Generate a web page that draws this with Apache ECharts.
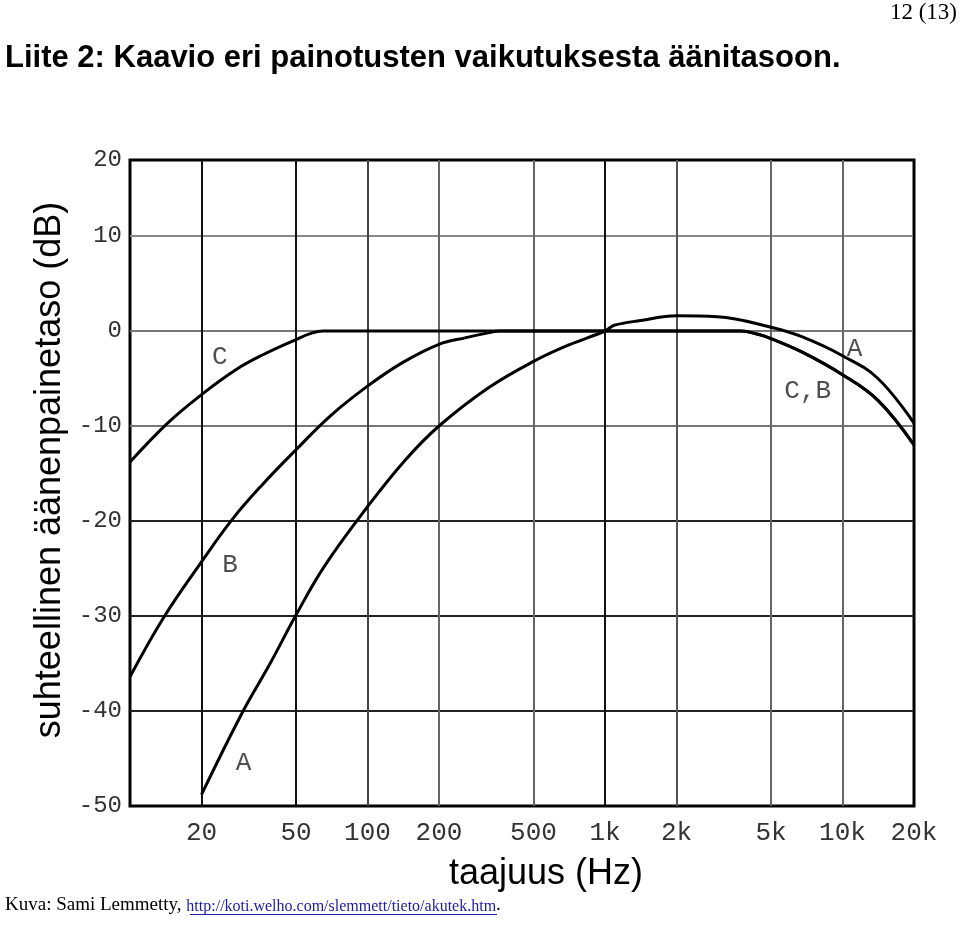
<!DOCTYPE html>
<html>
<head>
<meta charset="utf-8">
<script src="https://cdn.jsdelivr.net/npm/echarts@6/dist/echarts.min.js"></script>
<style>
html,body{margin:0;padding:0;background:#fff;}
#chart{width:960px;height:926px;}
</style>
</head>
<body>
<div id="chart"></div>
<script>
// ---- data (frequency in Hz, level in dB) ----
const xTickFreqs = [20, 50, 100, 200, 500, 1000, 2000, 5000, 10000, 20000];
const xTickLabels = ['20', '50', '100', '200', '500', '1k', '2k', '5k', '10k', '20k'];
const yTicks = [-50, -40, -30, -20, -10, 0, 10];
const yTopLabel = '20';

const freqC = [10, 14.4, 20, 27.8, 36.3, 50, 57, 65, 3740, 4410, 5000, 6740, 10000, 14100, 20000];
const dbC   = [-13.8, -9.7, -6.7, -4.1, -2.5, -0.9, -0.3, 0, 0, -0.35, -0.8, -2.2, -4.6, -7.3, -12.0];

const freqB = [10, 13.9, 20, 27, 36, 50, 70, 100, 141, 200, 260, 322, 360, 3740, 4410, 5000, 6740, 10000, 14100, 20000];
const dbB   = [-36.4, -30.1, -24.3, -19.8, -16.2, -12.5, -8.9, -5.8, -3.3, -1.4, -0.7, -0.2, 0, 0, -0.35, -0.8, -2.2, -4.6, -7.3, -12.0];

const freqA = [20, 29.8, 38.9, 50, 65.7, 100, 144, 200, 322, 500, 699, 1000, 1093, 1414, 2000, 2970, 5000, 6740, 10000, 14100, 20000];
const dbA   = [-48.8, -40.1, -35.0, -29.9, -24.8, -18.5, -13.6, -10.0, -6.0, -3.2, -1.5, 0, 0.6, 1.1, 1.6, 1.5, 0.4, -0.6, -2.6, -5.0, -9.7];

const curveLabelText = ['C', 'B', 'A', 'A', 'C,B'];
const curveLabelFreq = [23.9, 26.4, 30.1, 11250, 7140];
const curveLabelDb   = [-2.8, -24.6, -45.5, -1.9, -6.3];

// ---- build ----
const lg = f => Math.log10(f);
const pairs = (fs, ds) => fs.map((f, i) => [lg(f), ds[i]]);
const xMin = lg(10), xMax = lg(20000);
const yMin = -50, yMax = 18;
const xCustom = xTickFreqs.map(lg);
const yCustom = yTicks.concat([yMax]);

function xFmt(v) {
  const f = Math.round(Math.pow(10, v));
  const i = xTickFreqs.indexOf(f);
  return i >= 0 ? xTickLabels[i] : '';
}
function yFmt(v) {
  return v >= yMax - 0.001 ? yTopLabel : String(v);
}

const lineStyle = { color: '#000', width: 3 };
const chart = echarts.init(document.getElementById('chart'), null, { renderer: 'canvas' });
chart.setOption({
  animation: false,
  backgroundColor: '#fff',
  title: {
    text: 'Liite 2: Kaavio eri painotusten vaikutuksesta äänitasoon.',
    left: 5, top: 43, padding: 0,
    textStyle: { fontFamily: 'Liberation Sans', fontWeight: 'bold', fontSize: 31, color: '#000' }
  },
  grid: {
    left: 130, right: 46, top: 160, bottom: 120,
    show: true, borderColor: '#000', borderWidth: 3, backgroundColor: 'transparent'
  },
  xAxis: {
    type: 'value', min: xMin, max: xMax,
    name: 'taajuus (Hz)', nameLocation: 'middle', nameGap: 50,
    nameTextStyle: { fontFamily: 'Liberation Sans', fontSize: 36, color: '#000', padding: [0, 0, 0, 48] },
    axisLine: { show: false },
    axisTick: { show: false, customValues: xCustom },
    axisLabel: {
      customValues: xCustom, formatter: xFmt, margin: 14,
      fontFamily: 'Liberation Mono', fontSize: 26, color: '#333'
    },
    splitLine: {
      show: true,
      lineStyle: { width: 2, color: ['#111', '#111', '#444', '#666', '#666', '#111', '#555', '#666', '#666', '#000'] }
    }
  },
  yAxis: {
    type: 'value', min: yMin, max: yMax,
    name: 'suhteellinen äänenpainetaso (dB)', nameLocation: 'middle', nameGap: 62, nameRotate: 90,
    nameTextStyle: { fontFamily: 'Liberation Sans', fontSize: 36, color: '#000', padding: [0, 0, 0, 26] },
    axisLine: { show: false },
    axisTick: { show: false, customValues: yCustom },
    axisLabel: {
      customValues: yCustom, formatter: yFmt, margin: 8,
      fontFamily: 'Liberation Mono', fontSize: 24, color: '#333'
    },
    splitLine: {
      show: true,
      lineStyle: { width: 2, color: ['#000', '#222', '#222', '#222', '#777', '#777', '#888', '#000'] }
    }
  },
  series: [
    { type: 'line', name: 'C', data: pairs(freqC, dbC), showSymbol: false, smooth: 0.4, lineStyle: lineStyle, z: 3 },
    { type: 'line', name: 'B', data: pairs(freqB, dbB), showSymbol: false, smooth: 0.4, lineStyle: lineStyle, z: 3 },
    { type: 'line', name: 'A', data: pairs(freqA, dbA), showSymbol: false, smooth: 0.4, lineStyle: lineStyle, z: 3 },
    {
      type: 'scatter', name: 'labels', symbolSize: 0, z: 4,
      data: curveLabelText.map((t, i) => ({ name: t, value: [lg(curveLabelFreq[i]), curveLabelDb[i]] })),
      label: { show: true, position: 'inside', formatter: '{b}', fontFamily: 'Liberation Mono', fontSize: 26, color: '#222' }
    }
  ],
  graphic: [
    {
      type: 'text', right: 3, top: 1,
      style: { text: '12 (13)', font: '23px "Liberation Serif"', fill: '#000' }
    },
    {
      type: 'text', left: 5, top: 896,
      style: {
        text: '{a|Kuva: Sami Lemmetty, }{b|http://koti.welho.com/slemmett/tieto/akutek.htm}{a|.}',
        rich: {
          a: { fontFamily: 'Liberation Serif', fontSize: 19, fill: '#000', verticalAlign: 'bottom' },
          b: { fontFamily: 'Liberation Serif', fontSize: 16, fill: '#1c1ca8', verticalAlign: 'bottom' }
        }
      }
    },
    {
      type: 'line', shape: { x1: 190, y1: 914.5, x2: 497, y2: 914.5 },
      style: { stroke: '#1c1ca8', lineWidth: 1 }
    }
  ]
});
</script>
</body>
</html>
